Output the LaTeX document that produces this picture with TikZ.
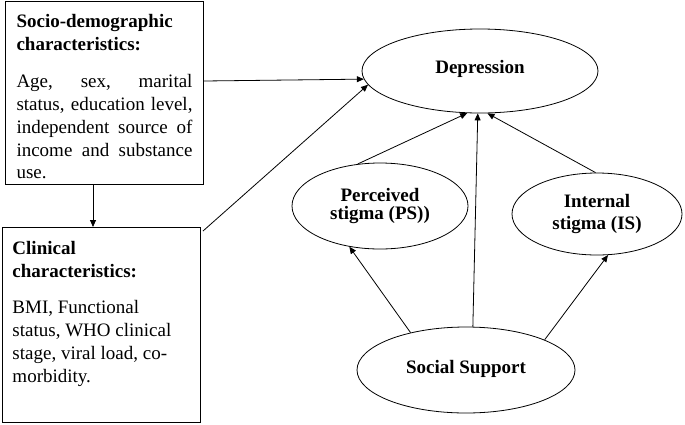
\documentclass[tikz,border=0pt]{standalone}
\usepackage{fontspec}
\setmainfont{Liberation Serif}
\usetikzlibrary{shapes.geometric,arrows.meta}
\begin{document}
\begin{tikzpicture}[x=1pt,y=-1pt,
 every node/.style={font=\fontsize{19}{22.7}\selectfont},
 box/.style={draw, line width=1pt, inner ysep=0pt, anchor=north west},
 oval/.style={ellipse, draw, line width=0.8pt, inner sep=0pt, align=center, font=\fontsize{19}{22}\selectfont\bfseries},
 arr/.style={line width=0.8pt, -{Triangle[length=7pt,width=6pt]}}]
\useasboundingbox (0,0) rectangle (685,424);

\node[box, inner xsep=11pt] (sd) at (5,1) {\parbox[c][183pt][t]{176pt}{\hyphenpenalty=10000\emergencystretch=20pt
{\bfseries\rule{0pt}{26pt}Socio-demographic\\characteristics:\par}\vspace{15pt}
Age, sex, marital\linebreak status, education level,\linebreak independent source of\linebreak income and substance\linebreak use.}};

\node[box, inner xsep=10pt] (clin) at (2,227) {\parbox[c][195pt][t]{178pt}{\raggedright\hyphenpenalty=10000
{\bfseries\rule{0pt}{27pt}Clinical\\characteristics:\par}\vspace{14pt}
BMI, Functional\\status, WHO clinical\\stage, viral load, co-\\morbidity.}};

\node[oval, minimum width=236pt, minimum height=84pt] (dep) at (480,71) {\raisebox{8pt}{Depression}};
\node[oval, minimum width=176pt, minimum height=86pt] (ps) at (380,206) {\raisebox{2pt}{\shortstack{Perceived\\[1pt]stigma (PS))}}};
\node[oval, minimum width=170pt, minimum height=82pt] (is) at (597,214) {Internal\\stigma (IS)};
\node[oval, minimum width=218pt, minimum height=86pt] (ss) at (466,370) {\raisebox{7pt}{Social Support}};

\draw[arr] (sd.south -| 93,0) -- (clin.north -| 93,0);
\draw[arr] (sd.east |- 0,81) -- (dep.184);
\draw[arr] ([xshift=2pt,yshift=-4pt]clin.north east) -- (dep.187);
\draw[arr] (ps.118) -- (dep.253);
\draw[arr] (ss.81) -- (dep.267);
\draw[arr] (is.92) -- (dep.280);
\draw[arr] (ss.146.5) -- (ps.233.8);
\draw[arr] (ss.21.9) -- (is.285.8);
\end{tikzpicture}
\end{document}
